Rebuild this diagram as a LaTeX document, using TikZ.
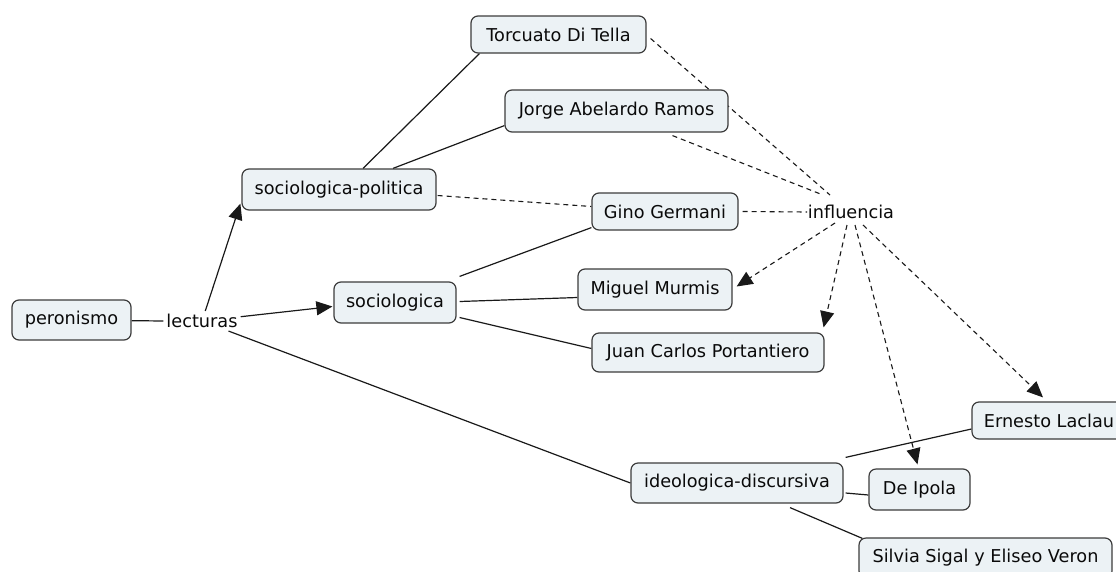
\documentclass[tikz,border=0pt]{standalone}
\usepackage{fontspec}
\setmainfont{DejaVu Sans}
\usetikzlibrary{arrows.meta,calc}
\pgfdeclarelayer{bg}
\pgfsetlayers{bg,main}
\definecolor{boxfill}{RGB}{236,242,245}
\definecolor{boxline}{RGB}{60,60,60}
\definecolor{txt}{RGB}{10,10,10}
\tikzset{
  concept/.style={draw=boxline, line width=1.2pt, fill=boxfill, rounded corners=7pt,
    text=txt, inner sep=0pt, font=\fontsize{17.7}{20}\selectfont},
  lbl/.style={text=txt, inner sep=3pt, font=\fontsize{17.7}{20}\selectfont},
  link/.style={draw=black!90, line width=1.2pt},
  dlink/.style={draw=black!90, line width=1.1pt, dash pattern=on 5pt off 4pt},
  tip/.style={-{Triangle[length=16pt,width=14pt]}}
}
\begin{document}
\begin{tikzpicture}[x=1pt,y=-1pt]
\useasboundingbox (0,0) rectangle (1116,571);
\node[concept, minimum width=119pt, minimum height=40pt] (pero) at (71.5,320) {peronismo};
\node[lbl] (lect) at (202,321) {lecturas};
\node[concept, minimum width=194pt, minimum height=41pt] (socpol) at (339,189.5) {sociologica-politica};
\node[concept, minimum width=122pt, minimum height=41pt] (socio) at (395,302.5) {sociologica};
\node[concept, minimum width=175pt, minimum height=37pt] (torc) at (558.5,34.5) {Torcuato Di Tella};
\node[concept, minimum width=223pt, minimum height=42pt] (jorge) at (616.5,111) {Jorge Abelardo Ramos};
\node[concept, minimum width=146pt, minimum height=37pt] (gino) at (665,211.5) {Gino Germani};
\node[lbl] (infl) at (851,212) {influencia};
\node[concept, minimum width=154pt, minimum height=41pt] (miguel) at (655,289.5) {Miguel Murmis};
\node[concept, minimum width=232pt, minimum height=39pt] (juan) at (708,352.5) {Juan Carlos Portantiero};
\node[concept, minimum width=154pt, minimum height=37pt] (laclau) at (1049,420.5) {Ernesto Laclau};
\node[concept, minimum width=212pt, minimum height=40pt] (ideo) at (737,483) {ideologica-discursiva};
\node[concept, minimum width=101pt, minimum height=41pt] (deipola) at (919.5,489.5) {De Ipola};
\node[concept, minimum width=253pt, minimum height=40pt] (silvia) at (985.5,558) {Silvia Sigal y Eliseo Veron};
\begin{pgfonlayer}{bg}
\draw[link] (pero) -- (lect.west);
\draw[link,tip] (lect) -- ($(socpol.south west)+(-1,-7)$);
\draw[link,tip] (lect) -- ($(socio.west)+(-1,4)$);
\draw[link] (lect) -- (ideo.west);
\draw[link] ($(socpol.north)+(24,0)$) -- ($(torc.south west)+(9,0)$);
\draw[link] ($(socpol.north)+(54,0)$) -- ($(jorge.south west)+(0,-7)$);
\draw[dlink] ($(socpol.east)+(1,6)$) -- ($(gino.west)+(0,-5)$);
\draw[link] ($(socio.north east)+(3,-5)$) -- ($(gino.south west)+(0,-3)$);
\draw[link] ($(socio.east)+(3,-1)$) -- ($(miguel.west)+(0,8)$);
\draw[link] ($(socio.east)+(3,15)$) -- ($(juan.west)+(0,-4)$);
\draw[dlink] ($(torc.east)+(4,4)$) -- ($(infl)+(-21,-17)$);
\draw[dlink] ($(jorge.south)+(56,3)$) -- ($(infl)+(-28,-17)$);
\draw[dlink] ($(gino.east)+(4,0)$) -- ($(infl)+(-44,0)$);
\draw[dlink,tip] ($(infl)+(-16,11)$) -- ($(miguel.east)+(4,-3)$);
\draw[dlink,tip] ($(infl)+(-4,13)$) -- ($(juan.north east)+(-1,-5)$);
\draw[dlink,tip] ($(infl)+(4,13)$) -- ($(deipola.north)+(-2,-4)$);
\draw[dlink,tip] ($(infl)+(12,13)$) -- ($(laclau.north)+(-6,-4)$);
\draw[link] ($(ideo.north east)+(2,-5)$) -- ($(laclau.west)+(0,8.5)$);
\draw[link] ($(ideo.east)+(2,10)$) -- ($(deipola.west)+(0,5.5)$);
\draw[link] ($(ideo.south)+(53,4)$) -- ($(silvia.north west)+(4,1)$);
\end{pgfonlayer}
\end{tikzpicture}
\end{document}
